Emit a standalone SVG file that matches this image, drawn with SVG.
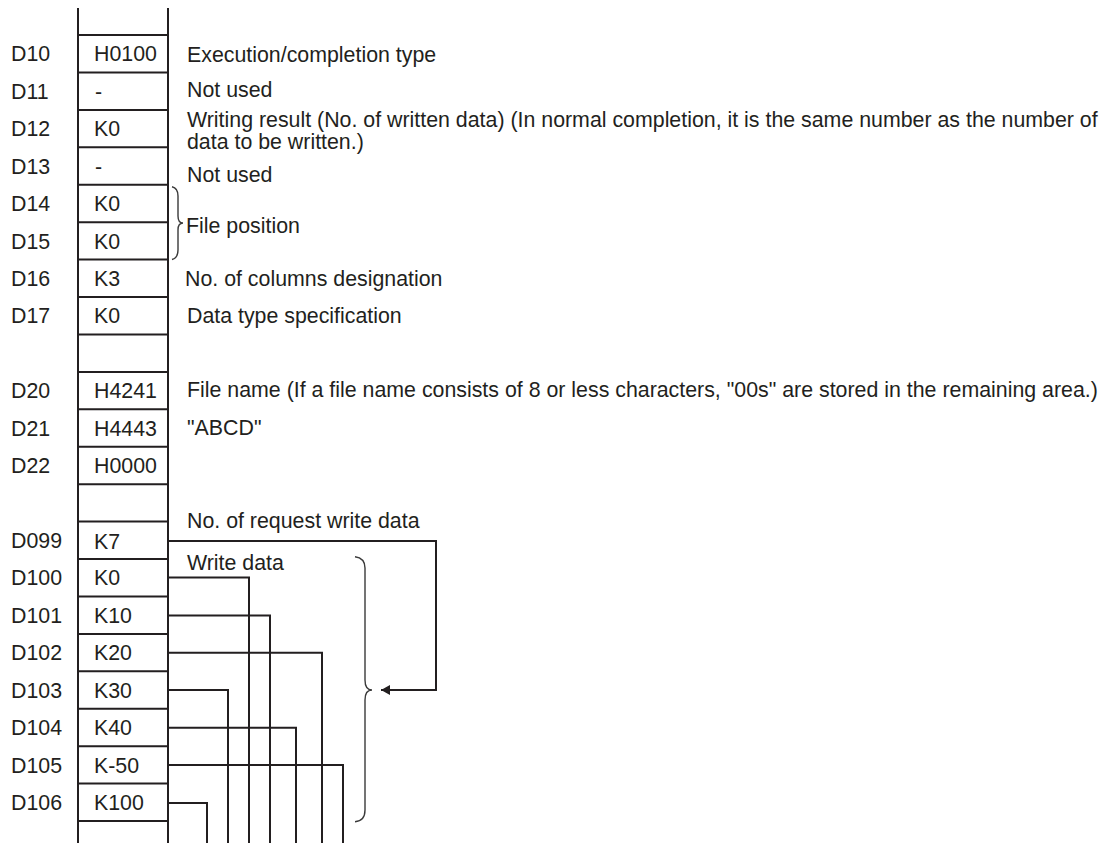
<svg xmlns="http://www.w3.org/2000/svg" width="1101" height="843" viewBox="0 0 1101 843">
<defs>
<style>
text{font-family:"Liberation Sans",Arial,sans-serif;font-size:21.35px;fill:#231f20}
.ln{stroke:#231f20;stroke-width:2;fill:none}
.br{stroke:#3a3a3a;stroke-width:1.4;fill:none}
</style>
<marker id="ah" markerWidth="10" markerHeight="10" refX="9" refY="5" orient="auto" markerUnits="userSpaceOnUse">
<path d="M0,0 L9,5 L0,10 Z" fill="#231f20"/>
</marker>
</defs>
<rect width="1101" height="843" fill="#fff"/>
<g id="table">
<path class="ln" d="M78,8V843M168,8V843"/>
<path class="ln" d="M78,35H168M78,72.4H168M78,109.9H168M78,147.3H168M78,184.7H168M78,222.2H168M78,259.6H168M78,297H168M78,334.4H168M78,371.9H168M78,409.3H168M78,446.7H168M78,484.2H168M78,521.6H168M78,559H168M78,596.5H168M78,633.9H168M78,671.3H168M78,708.7H168M78,746.2H168M78,783.6H168M78,821H168"/>
</g>
<g id="labels">
<text x="11" y="61.3">D10</text>
<text x="11" y="98.7">D11</text>
<text x="11" y="136.2">D12</text>
<text x="11" y="173.6">D13</text>
<text x="11" y="211">D14</text>
<text x="11" y="248.5">D15</text>
<text x="11" y="285.9">D16</text>
<text x="11" y="323.3">D17</text>
<text x="11" y="398.2">D20</text>
<text x="11" y="435.6">D21</text>
<text x="11" y="473.1">D22</text>
<text x="11" y="547.9">D099</text>
<text x="11" y="585.4">D100</text>
<text x="11" y="622.8">D101</text>
<text x="11" y="660.2">D102</text>
<text x="11" y="697.7">D103</text>
<text x="11" y="735.1">D104</text>
<text x="11" y="772.5">D105</text>
<text x="11" y="810">D106</text>
</g>
<g id="values">
<text x="94" y="61.3">H0100</text>
<text x="95" y="98.7">-</text>
<text x="94" y="136.2">K0</text>
<text x="95" y="173.6">-</text>
<text x="94" y="211">K0</text>
<text x="94" y="248.5">K0</text>
<text x="94" y="285.9">K3</text>
<text x="94" y="323.3">K0</text>
<text x="94" y="398.2">H4241</text>
<text x="94" y="435.6">H4443</text>
<text x="94" y="473.1">H0000</text>
<text x="94" y="548.5">K7</text>
<text x="94" y="585.4">K0</text>
<text x="94" y="622.8">K10</text>
<text x="94" y="660.2">K20</text>
<text x="94" y="697.7">K30</text>
<text x="94" y="735.1">K40</text>
<text x="94" y="772.5">K-50</text>
<text x="94" y="810">K100</text>
</g>
<g id="descriptions">
<text x="187" y="62">Execution/completion type</text>
<text x="187" y="96.7">Not used</text>
<text x="187" y="126.5">Writing result (No. of written data) (In normal completion, it is the same number as the number of</text>
<text x="187" y="149">data to be written.)</text>
<text x="187" y="181.5">Not used</text>
<text x="186" y="233">File position</text>
<text x="185" y="286">No. of columns designation</text>
<text x="187" y="323">Data type specification</text>
<text x="187" y="397">File name (If a file name consists of 8 or less characters, "00s" are stored in the remaining area.)</text>
<text x="187" y="434.5">"ABCD"</text>
<text x="187" y="528">No. of request write data</text>
<text x="187" y="570">Write data</text>
</g>
<g id="braces">
<path class="br" d="M172,186.7 Q178,188 178,196 V216 Q178,223 183,223 Q178,223 178,230 V250 Q178,258 172,259.5"/>
<path class="br" d="M355,556.7 Q365,558 365,568 V680 Q365,690 372,690 Q365,690 365,700 V810 Q365,821 355,821.7"/>
</g>
<g id="connectors">
<path class="ln" d="M168,541H436V690H381" marker-end="url(#ah)"/>
<path class="ln" d="M168,577.5H249V843"/>
<path class="ln" d="M168,615.5H271M270,615.5V843"/>
<path class="ln" d="M168,652.8H322V843"/>
<path class="ln" d="M168,690H228V843"/>
<path class="ln" d="M168,727.7H296V843"/>
<path class="ln" d="M168,765H343V843"/>
<path class="ln" d="M168,803H207V843"/>
</g>
</svg>
